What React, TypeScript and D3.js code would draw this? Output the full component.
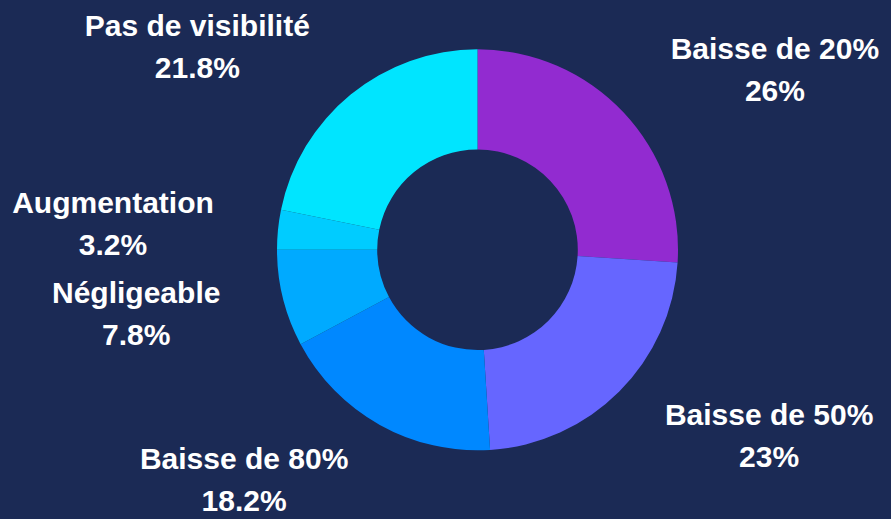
import React, { useEffect, useRef } from "react";
import * as d3 from "d3";

const categories = ["Baisse de 20%", "Baisse de 50%", "Baisse de 80%", "Négligeable", "Augmentation", "Pas de visibilité"];
const values = [26, 23, 18.2, 7.8, 3.2, 21.8];
const valueLabels = ["26%", "23%", "18.2%", "7.8%", "3.2%", "21.8%"];
const colors = ["#922bd0", "#6666ff", "#0088ff", "#00aaff", "#00ccff", "#00e5ff"];

const W = 891;
const H = 519;
const BG = "#1b2a55";

export default function App() {
  const ref = useRef<SVGSVGElement | null>(null);

  useEffect(() => {
    document.body.style.margin = "0";
    const svg = d3.select(ref.current);
    svg.selectAll("*").remove();

    const cx = 477.5;
    const cy = 249.8;
    const outerR = 200.5;
    const innerR = 100.3;

    svg.append("rect").attr("width", W).attr("height", H).attr("fill", BG);

    const pie = d3.pie<number>().sort(null).value((d) => d);
    const arcs = pie(values);
    const arc = d3.arc<d3.PieArcDatum<number>>().innerRadius(innerR).outerRadius(outerR);

    const g = svg.append("g").attr("transform", `translate(${cx},${cy})`);
    g.selectAll("path")
      .data(arcs)
      .enter()
      .append("path")
      .attr("d", arc as any)
      .attr("fill", (_, i) => colors[i]);

    const fontSize = 30;
    const labelRx = 265;
    const labelRy = 263;
    const gap = 42;

    const lg = svg.append("g")
      .attr("font-family", "'Liberation Sans', Arial, sans-serif")
      .attr("font-weight", "bold")
      .attr("font-size", fontSize)
      .attr("fill", "#ffffff");

    arcs.forEach((a, i) => {
      const mid = (a.startAngle + a.endAngle) / 2;
      const px = cx + labelRx * Math.sin(mid);
      const py = cy - labelRy * Math.cos(mid);
      const right = Math.sin(mid) >= 0;

      const t1 = lg.append("text").text(categories[i]);
      const t2 = lg.append("text").text(valueLabels[i]);
      const w1 = (t1.node() as SVGTextElement).getComputedTextLength();
      const w2 = (t2.node() as SVGTextElement).getComputedTextLength();
      const bw = Math.max(w1, w2);
      const centerX = right ? px + bw / 2 : px - bw / 2;
      t1.attr("x", centerX).attr("y", py - 10.5).attr("text-anchor", "middle");
      t2.attr("x", centerX).attr("y", py - 10.5 + gap).attr("text-anchor", "middle");
    });
  }, []);

  return <svg ref={ref} width={W} height={H} style={{ display: "block" }} />;
}
